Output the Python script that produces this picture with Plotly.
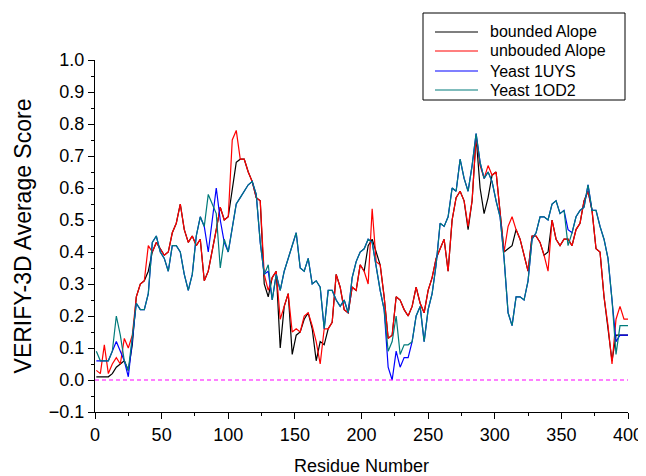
import plotly.graph_objects as go

residues = list(range(1, 401, 3))

bounded_alope = [
    0.01, 0.01, 0.01, 0.01, 0.02, 0.04, 0.05, 0.06, 0.03, 0.11,
    0.26, 0.30, 0.31, 0.34, 0.40, 0.43, 0.41, 0.39, 0.40, 0.46,
    0.49, 0.55, 0.47, 0.43, 0.45, 0.42, 0.44, 0.31, 0.34, 0.40,
    0.47, 0.54, 0.50, 0.51, 0.60, 0.68, 0.69, 0.69, 0.65, 0.62,
    0.57, 0.56, 0.30, 0.26, 0.32, 0.34, 0.10, 0.23, 0.27, 0.08,
    0.14, 0.15, 0.19, 0.21, 0.16, 0.06, 0.12, 0.11, 0.16, 0.18,
    0.33, 0.29, 0.22, 0.21, 0.29, 0.28, 0.36, 0.34, 0.42, 0.44,
    0.40, 0.36, 0.26, 0.13, 0.14, 0.26, 0.25, 0.22, 0.20, 0.23,
    0.29, 0.24, 0.21, 0.28, 0.32, 0.38, 0.41, 0.44, 0.34, 0.50,
    0.57, 0.59, 0.56, 0.47, 0.56, 0.76, 0.60, 0.52, 0.57, 0.64,
    0.65, 0.53, 0.40, 0.41, 0.42, 0.47, 0.44, 0.39, 0.34, 0.45,
    0.45, 0.43, 0.39, 0.40, 0.50, 0.44, 0.42, 0.44, 0.44, 0.42,
    0.47, 0.49, 0.56, 0.59, 0.53, 0.41, 0.40, 0.26, 0.16, 0.06,
    0.14, 0.14, 0.14, 0.14,
]

unbounded_alope = [
    0.03, 0.02, 0.11, 0.02, 0.05, 0.07, 0.05, 0.13, 0.10, 0.14,
    0.26, 0.30, 0.31, 0.42, 0.40, 0.43, 0.41, 0.39, 0.40, 0.46,
    0.49, 0.55, 0.47, 0.43, 0.45, 0.42, 0.44, 0.31, 0.34, 0.40,
    0.47, 0.54, 0.50, 0.51, 0.75, 0.78, 0.69, 0.69, 0.65, 0.62,
    0.57, 0.56, 0.33, 0.28, 0.32, 0.34, 0.19, 0.23, 0.27, 0.15,
    0.16, 0.15, 0.20, 0.21, 0.17, 0.12, 0.05, 0.16, 0.16, 0.18,
    0.33, 0.29, 0.22, 0.21, 0.29, 0.28, 0.36, 0.34, 0.30, 0.535,
    0.37, 0.36, 0.26, 0.13, 0.14, 0.26, 0.25, 0.22, 0.20, 0.23,
    0.29, 0.24, 0.21, 0.28, 0.32, 0.38, 0.41, 0.44, 0.34, 0.50,
    0.57, 0.59, 0.56, 0.48, 0.56, 0.76, 0.67, 0.63, 0.67, 0.64,
    0.65, 0.53, 0.40, 0.48, 0.51, 0.47, 0.44, 0.39, 0.34, 0.45,
    0.45, 0.43, 0.39, 0.34, 0.50, 0.44, 0.42, 0.44, 0.44, 0.42,
    0.47, 0.49, 0.56, 0.59, 0.53, 0.41, 0.40, 0.26, 0.17, 0.05,
    0.19, 0.23, 0.19, 0.19,
]

yeast_1uys = [
    0.06, 0.06, 0.06, 0.06, 0.09, 0.12, 0.09, 0.06, 0.01, 0.13,
    0.24, 0.22, 0.22, 0.27, 0.43, 0.45, 0.40, 0.38, 0.34, 0.42,
    0.42, 0.40, 0.33, 0.28, 0.33, 0.45, 0.51, 0.48, 0.40, 0.50,
    0.60, 0.50, 0.43, 0.40, 0.47, 0.55, 0.57, 0.59, 0.61, 0.62,
    0.58, 0.43, 0.33, 0.34, 0.25, 0.33, 0.28, 0.34, 0.38, 0.42,
    0.46, 0.35, 0.34, 0.38, 0.30, 0.31, 0.29, 0.16, 0.28, 0.28,
    0.25, 0.23, 0.25, 0.21, 0.32, 0.37, 0.40, 0.41, 0.44, 0.43,
    0.35, 0.28, 0.22, 0.04, 0.00, 0.09, 0.04, 0.07, 0.07, 0.12,
    0.20, 0.23, 0.12, 0.22, 0.27, 0.36, 0.49, 0.48, 0.51, 0.60,
    0.59, 0.69, 0.63, 0.59, 0.67, 0.77, 0.68, 0.63, 0.65, 0.62,
    0.56, 0.51, 0.38, 0.21, 0.17, 0.26, 0.26, 0.25, 0.31, 0.44,
    0.46, 0.51, 0.51, 0.50, 0.55, 0.56, 0.52, 0.53, 0.47, 0.46,
    0.51, 0.53, 0.54, 0.61, 0.53, 0.53, 0.48, 0.44, 0.38, 0.25,
    0.12, 0.14, 0.14, 0.14,
]

yeast_1od2 = [
    0.09, 0.06, 0.06, 0.06, 0.09, 0.20, 0.14, 0.06, 0.03, 0.13,
    0.24, 0.22, 0.22, 0.27, 0.43, 0.45, 0.40, 0.38, 0.34, 0.42,
    0.42, 0.40, 0.33, 0.28, 0.33, 0.45, 0.51, 0.48, 0.58, 0.55,
    0.52, 0.35, 0.44, 0.40, 0.47, 0.55, 0.57, 0.59, 0.61, 0.62,
    0.58, 0.43, 0.33, 0.36, 0.25, 0.33, 0.28, 0.34, 0.38, 0.42,
    0.46, 0.35, 0.34, 0.38, 0.30, 0.31, 0.29, 0.16, 0.28, 0.28,
    0.25, 0.23, 0.25, 0.21, 0.32, 0.37, 0.40, 0.41, 0.44, 0.43,
    0.35, 0.28, 0.22, 0.09, 0.12, 0.20, 0.08, 0.11, 0.11, 0.12,
    0.20, 0.23, 0.12, 0.22, 0.27, 0.36, 0.49, 0.48, 0.51, 0.60,
    0.59, 0.69, 0.63, 0.59, 0.67, 0.77, 0.68, 0.63, 0.65, 0.62,
    0.56, 0.51, 0.38, 0.21, 0.17, 0.26, 0.26, 0.25, 0.31, 0.44,
    0.46, 0.51, 0.51, 0.50, 0.55, 0.56, 0.52, 0.53, 0.42, 0.46,
    0.51, 0.53, 0.54, 0.61, 0.53, 0.53, 0.48, 0.44, 0.38, 0.25,
    0.08, 0.17, 0.17, 0.17,
]

series_names = ["bounded Alope", "unbouded Alope", "Yeast 1UYS", "Yeast 1OD2"]
series_values = [bounded_alope, unbounded_alope, yeast_1uys, yeast_1od2]
series_colors = ["#000000", "#ff0000", "#0000ff", "#007b7b"]

# The page body adds an 8 px margin, so the figure is 8 px smaller and all
# page-pixel positions are shifted by 8 px.
OFF = 8
W, H = 646 - OFF, 476 - OFF
PLOT_L, PLOT_R, PLOT_T, PLOT_B = 95, 628, 60, 412   # page pixels
ML, MT = PLOT_L - OFF, PLOT_T - OFF
MR, MB = W - (PLOT_R - OFF), H - (PLOT_B - OFF)
PW, PH = PLOT_R - PLOT_L, PLOT_B - PLOT_T


def px_x(p):
    return (p - PLOT_L) / PW


def px_y(p):
    return (PLOT_B - p) / PH


fig = go.Figure()
for name, vals, col in zip(series_names, series_values, series_colors):
    fig.add_trace(go.Scatter(x=residues, y=vals, mode="lines", name=name,
                             line=dict(color=col, width=1.2), showlegend=False))

fig.add_trace(go.Scatter(x=[0, 400], y=[0, 0], mode="lines", showlegend=False,
                         line=dict(color="#ff00ff", width=1.2, dash="4px,3px")))

font_family = "Liberation Sans, Arial, sans-serif"

shapes = [dict(type="rect", xref="paper", yref="paper",
               x0=px_x(423), x1=px_x(625), y0=px_y(100), y1=px_y(13),
               line=dict(color="black", width=1), fillcolor="rgba(0,0,0,0)")]
annotations = []
row_y = [32, 51, 71, 90]
for name, col, ry in zip(series_names, series_colors, row_y):
    shapes.append(dict(type="line", xref="paper", yref="paper",
                       x0=px_x(435), x1=px_x(478), y0=px_y(ry), y1=px_y(ry),
                       line=dict(color=col, width=1.2)))
    annotations.append(dict(text=name, xref="paper", yref="paper",
                            x=px_x(488), y=px_y(ry), xanchor="left", yanchor="middle",
                            showarrow=False, font=dict(size=16, family=font_family, color="black")))

fig.update_layout(
    width=W, height=H,
    margin=dict(l=ML, r=MR, t=MT, b=MB, autoexpand=False),
    paper_bgcolor="white", plot_bgcolor="white",
    font=dict(family=font_family, color="black", size=18),
    showlegend=False,
    shapes=shapes,
    annotations=annotations,
)

fig.update_xaxes(
    range=[0, 400], tickmode="linear", tick0=0, dtick=50,
    showline=True, linecolor="black", linewidth=1,
    ticks="outside", ticklen=6, tickcolor="black",
    minor=dict(ticks="outside", ticklen=3, dtick=25, tickcolor="black"),
    showgrid=False, zeroline=False, automargin=False,
    title=dict(text="Residue Number", font=dict(size=18), standoff=16),
    tickfont=dict(size=18),
)
fig.update_yaxes(
    range=[-0.1, 1.0], tickmode="linear", tick0=0, dtick=0.1, tickformat=".1f",
    showline=True, linecolor="black", linewidth=1,
    ticks="outside", ticklen=6, tickcolor="black",
    minor=dict(ticks="outside", ticklen=3, dtick=0.05, tickcolor="black"),
    showgrid=False, zeroline=False, automargin=False,
    title=dict(text="VERIFY-3D Average Score", font=dict(size=23), standoff=10),
    tickfont=dict(size=18),
)

fig.write_html("out.html")
